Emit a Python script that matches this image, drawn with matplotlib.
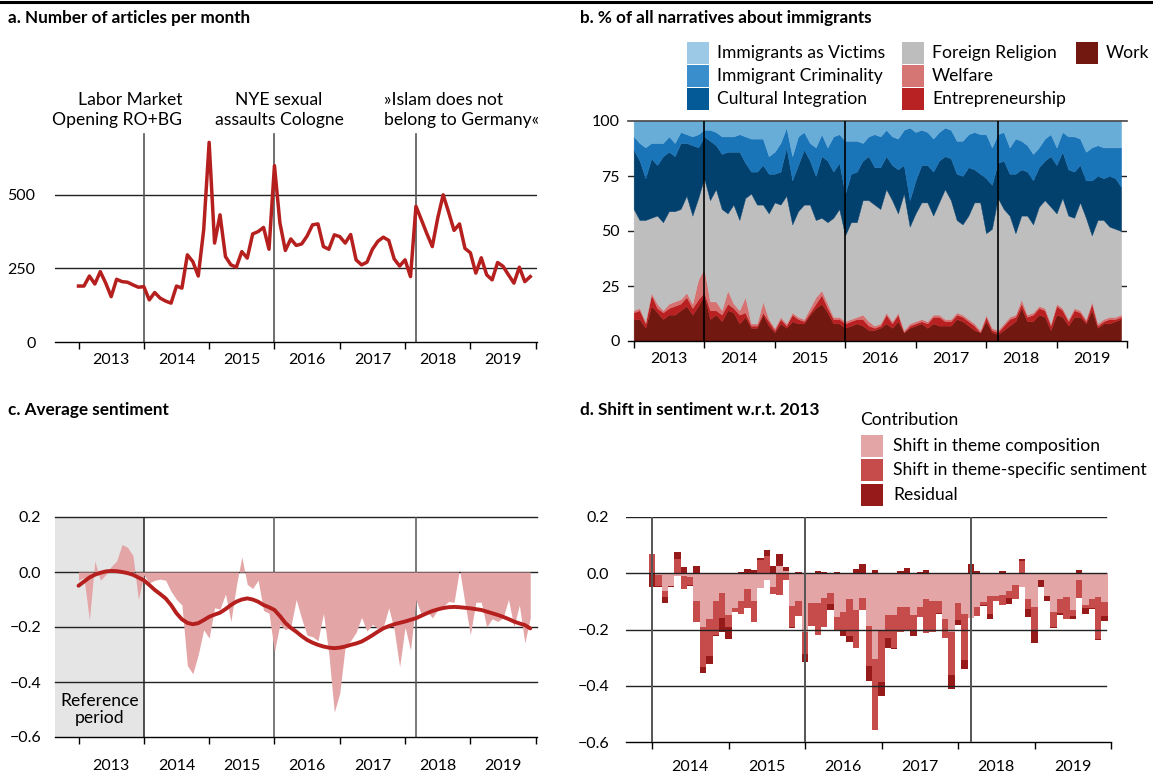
import numpy as np
import matplotlib
matplotlib.use('Agg')
import matplotlib.pyplot as plt
from matplotlib.patches import Rectangle
from matplotlib.lines import Line2D

plt.rcParams['font.family'] = ['Lato', 'DejaVu Sans']
plt.rcParams['axes.unicode_minus'] = True

# ---------------- data ----------------
# a. number of articles per month, Jan 2013 - Dec 2019
articles = [190, 190, 224, 197, 239, 200, 154, 213, 205, 203, 194, 186,
            188, 143, 168, 149, 139, 132, 190, 183, 296, 273, 224, 381,
            678, 336, 432, 290, 262, 254, 307, 285, 367, 375, 389, 315,
            599, 405, 311, 350, 328, 333, 360, 398, 401, 324, 315, 364,
            358, 336, 365, 279, 262, 271, 315, 342, 356, 345, 282, 258,
            279, 222, 461, 415, 368, 324, 421, 500, 441, 379, 401, 318,
            303, 234, 286, 228, 211, 270, 257, 228, 200, 254, 205, 222]

# b. share of narratives (%), Jan 2013 - Dec 2019
work = [10, 10, 6, 16, 13, 10, 12, 12, 14, 16, 12, 16,
        21, 10, 12, 9, 14, 13, 8, 11, 6, 6, 12, 7,
        4, 8, 6, 9, 8, 8, 12, 15, 17, 13, 8, 8,
        6, 7, 8, 7, 5, 5, 6, 8, 6, 9, 4, 6,
        7, 8, 6, 8, 7, 7, 7, 10, 9, 7, 5, 4,
        9, 4, 3, 5, 7, 9, 15, 9, 9, 12, 11, 5,
        12, 11, 7, 11, 11, 8, 14, 6, 8, 8, 9, 10]
entrepreneurship = [3, 4, 2, 5, 2, 3, 3, 4, 3, 4, 3, 3,
                    1, 4, 2, 3, 3, 2, 4, 2, 1, 1, 1, 2,
                    1, 2, 1, 3, 2, 1, 1, 2, 4, 2, 2, 2,
                    2, 2, 2, 3, 2, 1, 1, 4, 2, 3, 0, 1,
                    1, 1, 2, 3, 4, 2, 2, 2, 2, 2, 2, 0,
                    2, 1, 1, 2, 3, 2, 2, 2, 3, 3, 3, 2,
                    4, 3, 2, 3, 2, 1, 3, 1, 1, 2, 1, 1]
welfare = [1, 1, 1, 1, 2, 1, 2, 2, 2, 2, 2, 9,
           11, 4, 4, 2, 6, 2, 2, 7, 1, 1, 5, 1,
           1, 1, 1, 1, 1, 1, 2, 3, 2, 2, 1, 1,
           1, 1, 1, 2, 2, 1, 1, 1, 1, 1, 1, 1,
           1, 1, 1, 1, 1, 1, 1, 1, 1, 1, 1, 1,
           1, 1, 1, 1, 1, 1, 2, 1, 1, 1, 1, 1,
           1, 1, 1, 1, 1, 1, 1, 1, 1, 1, 1, 1]
religion = [46, 40, 46, 34, 40, 40, 42, 41, 41, 44, 40, 37,
            41, 46, 51, 46, 35, 45, 41, 45, 59, 54, 44, 48,
            57, 51, 58, 40, 48, 52, 47, 35, 33, 37, 45, 49,
            39, 44, 43, 52, 55, 55, 52, 56, 55, 45, 62, 44,
            49, 53, 54, 45, 51, 59, 54, 42, 41, 47, 55, 58,
            37, 45, 60, 52, 46, 37, 38, 45, 40, 45, 49, 53,
            41, 50, 47, 41, 49, 46, 30, 47, 45, 41, 40, 38]
integration = [27, 27, 19, 27, 23, 30, 27, 25, 30, 24, 32, 23,
               19, 27, 20, 25, 28, 24, 31, 16, 10, 15, 18, 18,
               13, 15, 22, 20, 21, 25, 20, 20, 28, 28, 21, 21,
               19, 22, 23, 18, 20, 17, 19, 15, 16, 20, 13, 12,
               15, 17, 17, 20, 19, 15, 19, 21, 22, 22, 15, 13,
               25, 20, 16, 22, 19, 27, 21, 20, 20, 18, 18, 23,
               22, 21, 21, 21, 17, 17, 25, 20, 19, 23, 23, 20]
criminality = [6, 8, 14, 7, 10, 6, 7, 6, 5, 4, 4, 6,
               3, 5, 6, 8, 7, 7, 8, 12, 15, 15, 12, 8,
               10, 13, 9, 11, 13, 8, 8, 13, 10, 6, 16, 13,
               24, 15, 14, 8, 9, 15, 14, 12, 13, 14, 16, 33,
               22, 16, 15, 15, 13, 13, 13, 15, 16, 15, 17, 18,
               20, 17, 13, 13, 12, 16, 13, 12, 12, 9, 10, 10,
               8, 9, 15, 16, 12, 13, 15, 14, 14, 13, 14, 18]
victims = [7, 10, 12, 10, 10, 10, 7, 10, 5, 6, 7, 6,
           4, 4, 5, 7, 7, 7, 6, 7, 8, 8, 8, 16,
           14, 10, 3, 16, 7, 5, 10, 12, 6, 12, 7, 6,
           9, 9, 9, 10, 7, 6, 7, 4, 7, 8, 4, 3,
           5, 4, 5, 8, 5, 3, 4, 9, 9, 6, 5, 6,
           6, 12, 6, 5, 12, 8, 9, 11, 15, 12, 8, 6,
           12, 5, 7, 7, 8, 14, 12, 11, 12, 12, 12, 12]

# c. average sentiment (monthly) and smoothed trend, Jan 2013 - Dec 2019
sentiment = [-0.03, -0.02, -0.175, 0.04, -0.03, -0.01, 0.02, 0.04, 0.10, 0.09, 0.06, -0.10,
             -0.01, -0.04, -0.03, -0.026, -0.03, -0.07, -0.10, -0.12, -0.34, -0.37, -0.30, -0.21,
             -0.24, -0.13, -0.135, -0.08, -0.18, -0.05, 0.055, -0.045, -0.06, -0.03, -0.14, -0.15,
             -0.29, -0.19, -0.21, -0.20, -0.10, -0.17, -0.23, -0.235, -0.25, -0.15, -0.30, -0.51,
             -0.44, -0.27, -0.25, -0.22, -0.165, -0.215, -0.19, -0.205, -0.20, -0.13, -0.21, -0.345,
             -0.20, -0.285, -0.10, -0.155, -0.14, -0.167, -0.137, -0.125, -0.107, -0.11, 0.01, -0.113,
             -0.228, -0.11, -0.11, -0.20, -0.17, -0.18, -0.167, -0.10, -0.20, -0.12, -0.258, -0.167]
trend = [-0.05, -0.035, -0.02, -0.01, -0.003, 0.002, 0.004, 0.003, 0.0, -0.004, -0.01, -0.02,
         -0.03, -0.047, -0.065, -0.08, -0.096, -0.12, -0.15, -0.172, -0.185, -0.19, -0.186, -0.175,
         -0.163, -0.155, -0.148, -0.135, -0.12, -0.108, -0.10, -0.096, -0.10, -0.108, -0.12, -0.128,
         -0.138, -0.16, -0.185, -0.203, -0.217, -0.233, -0.247, -0.257, -0.265, -0.271, -0.275, -0.277,
         -0.275, -0.271, -0.265, -0.26, -0.253, -0.242, -0.23, -0.217, -0.205, -0.197, -0.19, -0.185,
         -0.18, -0.174, -0.168, -0.159, -0.15, -0.142, -0.136, -0.131, -0.128, -0.127, -0.128, -0.13,
         -0.132, -0.135, -0.138, -0.144, -0.15, -0.156, -0.163, -0.171, -0.18, -0.187, -0.193, -0.205]

# d. decomposition of the shift in sentiment w.r.t. 2013, Jan 2014 - Dec 2019
composition = [0.0, -0.005, -0.062, -0.046, -0.01, -0.01, -0.015, -0.10, -0.192, -0.163, -0.097, -0.069,
               -0.15, -0.122, -0.10, -0.055, -0.10, -0.051, -0.023, -0.048, 0.025, 0.008, -0.118, -0.10,
               -0.209, -0.104, -0.104, -0.089, -0.069, -0.157, -0.136, -0.092, -0.132, -0.089, -0.188, -0.304,
               -0.202, -0.15, -0.15, -0.12, -0.12, -0.15, -0.12, -0.09, -0.097, -0.10, -0.163, -0.208,
               -0.105, -0.146, -0.16, -0.12, -0.103, -0.08, -0.082, -0.076, -0.062, -0.042, -0.05, -0.091,
               -0.12, -0.025, -0.08, -0.138, -0.091, -0.085, -0.13, -0.023, -0.112, -0.09, -0.085, -0.103]
theme_sent = [0.07, -0.04, -0.023, 0.0, 0.05, -0.045, -0.027, -0.074, -0.14, -0.131, -0.124, -0.09,
              -0.042, -0.017, -0.045, -0.07, -0.074, 0.047, 0.061, -0.024, -0.078, -0.023, -0.074, -0.053,
              -0.078, -0.084, -0.116, -0.103, -0.039, -0.043, -0.07, -0.131, -0.132, -0.043, -0.141, -0.253,
              -0.186, -0.08, -0.115, -0.09, -0.08, -0.055, -0.035, -0.123, -0.113, -0.043, -0.066, -0.152,
              -0.062, -0.161, 0.0, -0.032, -0.01, -0.064, -0.018, -0.036, -0.027, -0.049, 0.043, -0.035,
              -0.082, 0.0, 0.0, -0.052, -0.049, -0.078, -0.022, -0.066, -0.012, -0.035, -0.148, -0.049]
residual = [-0.05, -0.003, -0.019, -0.003, 0.025, 0.022, -0.005, 0.026, -0.021, -0.028, -0.003, -0.05,
            -0.041, 0.0, 0.005, 0.015, 0.012, 0.007, 0.021, 0.026, 0.042, 0.014, -0.003, 0.005,
            -0.03, 0.0, 0.008, 0.005, -0.021, 0.005, -0.017, -0.02, 0.015, 0.033, -0.055, 0.012,
            -0.048, -0.034, -0.003, 0.008, 0.02, -0.017, 0.005, 0.01, 0.0, -0.002, 0.0, -0.052,
            -0.018, -0.035, 0.032, 0.008, -0.005, -0.02, 0.0, 0.008, -0.02, -0.002, 0.007, -0.028,
            -0.047, -0.025, -0.017, -0.006, -0.01, 0.0, -0.009, 0.011, -0.02, -0.002, -0.004, -0.017]

years_ac = [2013, 2014, 2015, 2016, 2017, 2018, 2019]
years_d = [2014, 2015, 2016, 2017, 2018, 2019]
events = [2014.0, 2016.0, 2018 + 2 / 12]
event_labels = ['Labor Market\nOpening RO+BG', 'NYE sexual\nassaults Cologne',
                '\u00bbIslam does not\nbelong to Germany\u00ab']

# x positions (decimal years, one per month)
t = 2013 + np.arange(len(articles)) / 12
td = 2014 + np.arange(len(composition)) / 12

# ---------------- figure ----------------
W, H = 1153, 776
fig = plt.figure(figsize=(W / 100, H / 100), dpi=100)

RED = '#b5201f'
GRID = '#222222'
FS = 11.5
FT = 12.6   # annotation / legend text


def axes_px(left, top, right, bottom):
    return fig.add_axes([left / W, 1 - bottom / H, (right - left) / W, (bottom - top) / H])


def style(ax, years, ylab_pad, xlab_pad=8):
    for s in ['top', 'right', 'left']:
        ax.spines[s].set_visible(False)
    ax.spines['bottom'].set_color('black')
    ax.spines['bottom'].set_linewidth(1.0)
    ax.set_xticks(list(years) + [years[-1] + 1])
    ax.set_xticklabels([])
    ax.set_xticks([y + 0.5 for y in years], minor=True)
    ax.set_xticklabels([str(y) for y in years], minor=True)
    ax.tick_params(axis='x', which='major', length=5, width=1, color='black', direction='out')
    ax.tick_params(axis='x', which='minor', length=0, pad=xlab_pad, labelsize=FS)
    ax.tick_params(axis='y', length=0, pad=ylab_pad, labelsize=FS)


def ftext(x, y, s, **kw):
    return fig.text(x / W, 1 - y / H, s, **kw)


# top rule
fig.add_artist(Line2D([0, 1], [1 - 2 / H, 1 - 2 / H], color='black', lw=2.2))

# titles
tkw = dict(fontsize=12.3, fontweight='bold', va='center')
ftext(8, 18, 'a. Number of articles per month', **tkw)
ftext(580, 18, 'b. % of all narratives about immigrants', **tkw)
ftext(8, 410, 'c. Average sentiment', **tkw)
ftext(580, 410, 'd. Shift in sentiment w.r.t. 2013', **tkw)

# ---------- panel a ----------
ax = axes_px(55, 130, 537, 342)
ax.set_xlim(2012.64, 2020.02)
ax.set_ylim(0, 720)
ax.set_yticks([0, 250, 500])
for yv in [250, 500]:
    ax.axhline(yv, color=GRID, lw=1.0, zorder=1)
for ev in events:
    ax.axvline(ev, ymax=707 / 720, color='#555555', lw=1.2, zorder=1)
ax.plot(t, articles, color=RED, lw=2.5, zorder=3, solid_joinstyle='round')
style(ax, years_ac, 14)
akw = dict(fontsize=FT, va='center', linespacing=1.35)
ftext(182, 110, event_labels[0], ha='right', **akw)
ftext(279, 110, event_labels[1], ha='center', **akw)
ftext(384, 110, event_labels[2], ha='left', **akw)

# ---------- panel b ----------
ax = axes_px(628, 121, 1127, 341)
ax.set_xlim(2012.92, 2020.0)
ax.set_ylim(0, 100)
ax.set_yticks([0, 25, 50, 75, 100])
for yv in [25, 50, 75]:
    ax.axhline(yv, color=GRID, lw=1.0, zorder=0)
area_cols = ['#711810', '#b92021', '#d67272', '#bebebe', '#02406e', '#1a74b8', '#68acd8']
ax.stackplot(t, work, entrepreneurship, welfare, religion, integration, criminality, victims,
             colors=area_cols, linewidth=0.3, edgecolor='face', zorder=2)
ax.axhline(100, color='#444444', lw=1.2, zorder=4, clip_on=False)
for ev in events:
    ax.axvline(ev, color='black', lw=1.2, zorder=5)
style(ax, years_ac, 6)

# legend b
leg_b = [
    (687, 53, '#9bc9e6', 'Immigrants as Victims'),
    (687, 76, '#3a8ecb', 'Immigrant Criminality'),
    (687, 99, '#045a96', 'Cultural Integration'),
    (902, 53, '#bdbdbd', 'Foreign Religion'),
    (902, 76, '#d57574', 'Welfare'),
    (902, 99, '#b82222', 'Entrepreneurship'),
    (1076, 53, '#731711', 'Work'),
]
for x0, yc, col, lab in leg_b:
    fig.add_artist(Rectangle((x0 / W, 1 - (yc + 11) / H), 22 / W, 22 / H,
                             transform=fig.transFigure, facecolor=col, edgecolor='none'))
    ftext(x0 + 30, yc, lab, fontsize=FT, va='center')

# ---------- panel c ----------
ax = axes_px(55, 517, 537, 737)
ax.set_xlim(2012.64, 2020.02)
ax.set_ylim(-0.6, 0.2)
ax.set_yticks([-0.6, -0.4, -0.2, 0.0, 0.2])
ax.set_yticklabels(['\u22120.6', '\u22120.4', '\u22120.2', '0.0', '0.2'])
ax.axvspan(2012.64, 2014.0, color='#e5e5e5', zorder=0, lw=0)
for yv in [-0.4, -0.2, 0.0, 0.2]:
    ax.axhline(yv, color=GRID, lw=1.0, zorder=1, clip_on=False)
ax.fill_between(t, 0, sentiment, color='#e4a5a7', lw=0, zorder=2)
for ev, col in zip(events, ['#222222', '#555555', '#555555']):
    ax.axvline(ev, color=col, lw=1.1, zorder=1)
ax.plot(t, trend, color=RED, lw=2.8, zorder=4, solid_capstyle='round')
ax.text(2013.32, -0.5, 'Reference\nperiod', ha='center', va='center', fontsize=FT, linespacing=1.0)
style(ax, years_ac, 10, xlab_pad=16)

# ---------- panel d ----------
ax = axes_px(626, 517, 1111, 742)
ax.set_xlim(2013.66, 2020.0)
ax.set_ylim(-0.6, 0.2)
ax.set_yticks([-0.6, -0.4, -0.2, 0.0, 0.2])
ax.set_yticklabels(['\u22120.6', '\u22120.4', '\u22120.2', '0.0', '0.2'])
for yv in [-0.4, -0.2, 0.0, 0.2]:
    ax.axhline(yv, xmax=0.99, color=GRID, lw=1.0, zorder=3)
pos = np.zeros(len(td))
neg = np.zeros(len(td))
bar_cols = ['#e4a5a7', '#c64b4b', '#971a1a']
for vals, col in zip([composition, theme_sent, residual], bar_cols):
    v = np.array(vals)
    bottom = np.where(v >= 0, pos, neg)
    ax.bar(td, v, width=1 / 12, bottom=bottom, color=col, lw=0, zorder=2)
    pos = pos + np.where(v >= 0, v, 0)
    neg = neg + np.where(v < 0, v, 0)
for ev in events:
    ax.axvline(ev, color='#555555', lw=1.4, zorder=4)
style(ax, years_d, 12, xlab_pad=13)

# legend d
ftext(860, 420, 'Contribution', fontsize=FT, va='center')
for yc, col, lab in zip([446, 470, 495], bar_cols,
                        ['Shift in theme composition', 'Shift in theme-specific sentiment', 'Residual']):
    fig.add_artist(Rectangle((861 / W, 1 - (yc + 11) / H), 22 / W, 22 / H,
                             transform=fig.transFigure, facecolor=col, edgecolor='none'))
    ftext(893, yc, lab, fontsize=FT, va='center')

fig.savefig('out.png', dpi=100)
